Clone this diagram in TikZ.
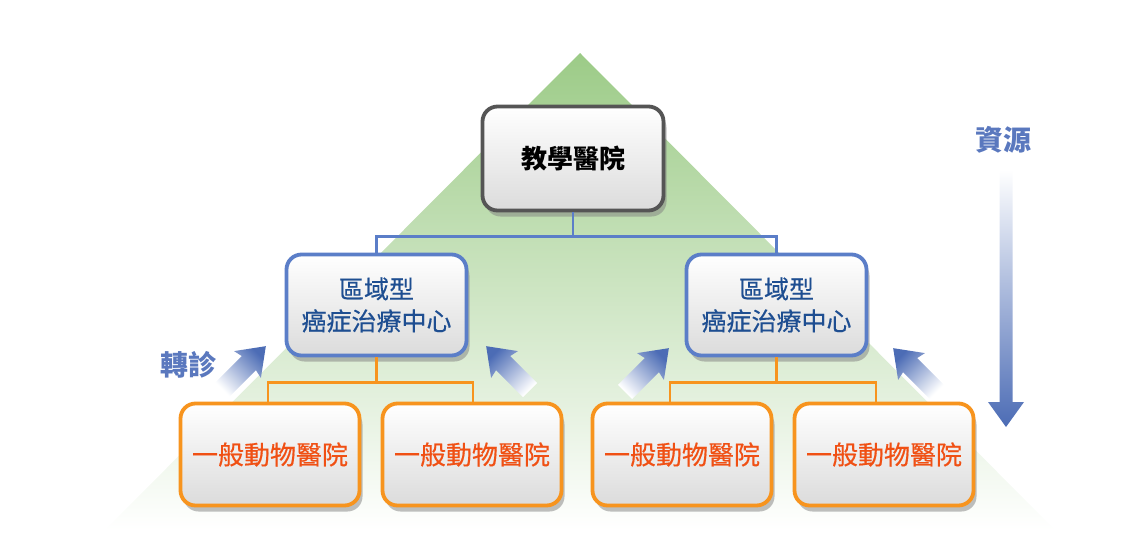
\documentclass[tikz,border=0pt]{standalone}
\usepackage{fontspec}
\setmainfont{Noto Sans CJK TC}
\usetikzlibrary{shadows,calc}
\definecolor{tri}{RGB}{156,203,135}
\definecolor{bbord}{RGB}{91,126,200}
\definecolor{btext}{RGB}{30,78,145}
\definecolor{obord}{RGB}{247,148,30}
\definecolor{otext}{RGB}{240,80,20}
\definecolor{gbord}{RGB}{85,85,85}
\definecolor{arr}{RGB}{76,108,181}
\definecolor{lbl}{RGB}{90,120,190}
\begin{document}
\begin{tikzpicture}[x=1pt,y=-1pt,
  boxbase/.style={rounded corners=15pt, line width=3.8pt, top color=white, bottom color=black!14,
    drop shadow={shadow xshift=3pt,shadow yshift=-6pt,opacity=0.5}, align=center, inner sep=0pt},
  topbox/.style={boxbase, draw=gbord, minimum width=181pt, minimum height=104pt,
    font=\fontsize{26}{30}\selectfont\bfseries},
  midbox/.style={boxbase, draw=bbord, text=btext, minimum width=180pt, minimum height=101pt,
    font=\fontsize{25}{32}\selectfont\addfontfeature{FakeBold=0.4}},
  lowbox/.style={boxbase, draw=obord, text=otext, minimum width=179pt, minimum height=102pt,
    font=\fontsize{26}{30}\selectfont\addfontfeature{FakeBold=0.5}},
  bluelink/.style={draw=bbord, line width=2.8pt},
  orangelink/.style={draw=obord, line width=2.8pt},
  lbltext/.style={text=lbl, font=\fontsize{28}{32}\selectfont\bfseries},
  refarrow/.style={top color=arr, bottom color=white},
]
\useasboundingbox (0,0) rectangle (1148,541);
% background triangle
\shade[top color=tri, bottom color=white] (580,53) -- (1055,530) -- (105,530) -- cycle;

% nodes
\node[topbox] (top) at (573,158.5) {教學醫院};
\node[midbox] (m1) at (376.5,305) {區域型\\癌症治療中心};
\node[midbox] (m2) at (776.5,305) {區域型\\癌症治療中心};
\node[lowbox] (b1) at (270,454.5) {一般動物醫院};
\node[lowbox] (b2) at (472,454.5) {一般動物醫院};
\node[lowbox] (b3) at (682,454.5) {一般動物醫院};
\node[lowbox] (b4) at (884,454.5) {一般動物醫院};

% connectors
\draw[bluelink] (top.south) -- ++(0,24) coordinate (tj);
\draw[bluelink] (m1.north) |- (tj) -| (m2.north);
\draw[orangelink] (m1.south) -- ++(0,25) coordinate (lj);
\draw[orangelink] ([xshift=-2pt]b1.north) |- (lj) -| ([xshift=1pt]b2.north);
\draw[orangelink] (m2.south) -- ++(0,25) coordinate (rj);
\draw[orangelink] ([xshift=-12pt]b3.north) |- (rj) -| ([xshift=-8pt]b4.north);

% referral arrows
\foreach \tx/\ty/\ang/\sa in {222/390/45/-45, 530/390/135/45, 625/392/45/-45, 937/392/135/45}{
  \begin{scope}[shift={(\tx,\ty)}, rotate=\ang]
    \shade[refarrow, shading angle=\sa] (0,-10) -- (38,-10) -- (36,-19) -- (62,0) -- (36,19) -- (38,10) -- (0,10) -- cycle;
  \end{scope}
}
\node[lbltext] (zz) at (188,365) {轉診};

% resources arrow
\node[lbltext] (zy) at (1003,140) {資源};
\shade[top color=white, bottom color=arr] (999.5,170) -- (1012.5,170) -- (1012.5,402) -- (1024,402) -- (1006,427) -- (988,402) -- (999.5,402) -- cycle;
\end{tikzpicture}
\end{document}
